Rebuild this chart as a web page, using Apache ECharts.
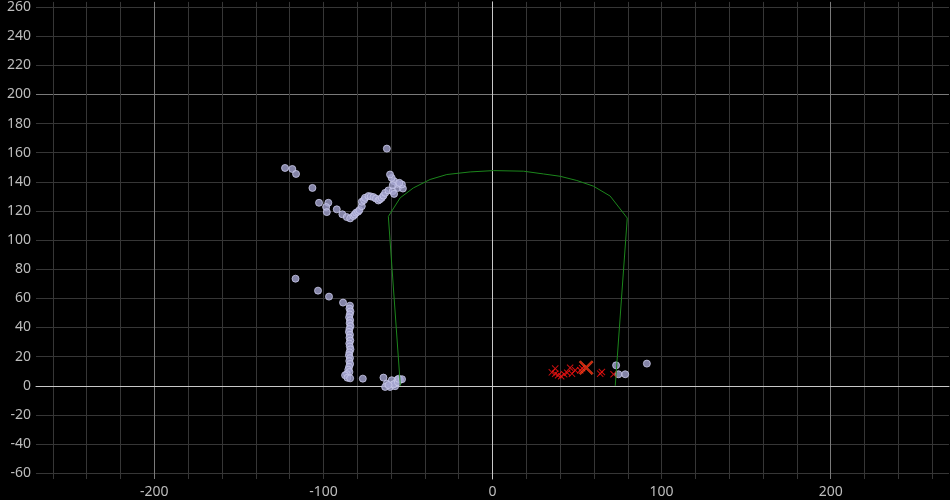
<!DOCTYPE html>
<html lang="en">
<head>
<meta charset="UTF-8">
<title>scan</title>
<script src="https://cdn.jsdelivr.net/npm/echarts@6/dist/echarts.min.js"></script>
<style>
  html, body { margin: 0; padding: 0; background: #000; }
  #chart { width: 950px; height: 500px; }
</style>
</head>
<body>
<div id="chart"></div>
<script>
// tick values
var xMinorTicks = [-260, -240, -220, -200, -180, -160, -140, -120, -100, -80, -60, -40, -20, 0, 20, 40, 60, 80, 100, 120, 140, 160, 180, 200, 220, 240, 260];
var xMajorTicks = [-200, 0, 200];
var xLabels = [-200, -100, 0, 100, 200];
var yMinorTicks = [-60, -40, -20, 0, 20, 40, 60, 80, 100, 120, 140, 160, 180, 200, 220, 240, 260];
var yMajorTicks = [0, 200];
var yLabels = [-60, -40, -20, 0, 20, 40, 60, 80, 100, 120, 140, 160, 180, 200, 220, 240, 260];

// green outline
var outline = [
  [-54.5, 0], [-61.6, 116.2], [-54.6, 129], [-46.8, 135.8], [-36.9, 141.6], [-27, 145],
  [-13.2, 146.8], [0.6, 147.7], [18.3, 147.3], [30.1, 145.4], [40, 143.8], [49.9, 140.9],
  [59.7, 137], [69.6, 130.2], [79.7, 115.1], [72.6, 0]
];

// lavender points: upper arc
var arcPoints = [
  [-122.7, 149.5], [-118.4, 148.8], [-116.2, 145.4], [-106.5, 135.8], [-102.6, 125.6],
  [-97.1, 125.6], [-98.4, 122.7], [-98.0, 119.2], [-92.1, 121.1], [-88.8, 117.7],
  [-86.2, 115.8], [-84.2, 114.9], [-82.3, 116.5], [-81.5, 117.5], [-80.7, 118.8],
  [-79.5, 119.5], [-78.7, 120.6], [-77.3, 123.3], [-77.3, 126.3], [-76, 127.5],
  [-75.4, 129.0], [-73.4, 130.2], [-72, 130], [-70.4, 129.5], [-69, 128.5],
  [-67.5, 127.2], [-66.5, 128], [-65.5, 129.0], [-64.5, 130.5], [-63.5, 132.4],
  [-61.6, 134.1], [-59.0, 133.6], [-58.2, 131.7], [-56.0, 135.8], [-53.0, 135.4],
  [-53.6, 138.2], [-56.2, 138.6], [-58.2, 140.4], [-59.6, 142.7], [-60.6, 145.0],
  [-59.0, 137.7], [-55.1, 139.3], [-62.5, 162.8]
];

// lavender points: left column and scattered
var columnPoints = [
  [-116.5, 73.5], [-103.2, 65.3], [-96.7, 61.2], [-88.4, 57.1],
  [-84.3, 55], [-84.6, 53], [-84.0, 51], [-84.4, 49], [-84.8, 47], [-84.2, 45],
  [-84.5, 43], [-84.0, 41], [-84.6, 39], [-84.9, 37], [-84.3, 35], [-84.6, 33],
  [-84.1, 31], [-84.7, 29], [-84.4, 27], [-84.0, 25], [-84.6, 23], [-84.9, 21],
  [-84.3, 19], [-84.7, 17], [-84.2, 15], [-84.8, 13], [-85.3, 11], [-84.6, 9.5],
  [-86.2, 8], [-87.2, 7.2], [-85.8, 5.5], [-84.2, 5.1], [-76.7, 4.9]
];

// lavender points: bottom clusters
var bottomPoints = [
  [-64.5, 5.6], [-62.5, 1.5], [-59.6, 3.8], [-60.6, -0.8], [-57.6, -0.3],
  [-56.2, 4.2], [-57.6, 1.5], [-54.7, 4.2], [-63.5, -0.8], [-58.5, 1],
  [-61.5, 0.5], [-56, 2.5], [-55.5, 4.8], [-53.5, 4.5],
  [73.1, 14.0], [74.5, 7.9], [78.5, 7.9], [91.3, 15.2]
];

// red crosses
var redPoints = [
  [37.1, 11.8], [35.1, 9.2], [37.1, 8.2], [38.8, 7.2], [40.6, 6.5], [42.4, 7.9],
  [44.2, 8.9], [45.9, 12.4], [47.0, 8.3], [48.9, 10.6], [51.9, 10.6], [53.0, 12.0],
  [63.7, 8.3], [64.7, 9.4], [71.6, 7.9]
];
var bigCross = [[55.4, 12.4]];

var crossPath = 'path://M1,0L5,4L9,0L10,1L6,5L10,9L9,10L5,6L1,10L0,9L4,5L0,1Z';
var labelStyle = { color: '#bdbdbd', fontSize: 14, fontFamily: 'Noto Sans' };

var chart = echarts.init(document.getElementById('chart'));

function pointSeries(data) {
  return {
    type: 'scatter',
    data: data,
    symbol: 'circle',
    symbolSize: 7,
    itemStyle: { color: '#a4a4d0', borderColor: '#cacaea', borderWidth: 1 },
    silent: true
  };
}

chart.setOption({
  backgroundColor: '#000',
  animation: false,
  grid: { left: 36, right: 1, top: 0, bottom: 21 },
  xAxis: [
    {
      type: 'value', min: -270, max: 270, position: 'bottom',
      axisLine: { show: false },
      axisTick: { show: false, customValues: xMinorTicks },
      axisLabel: { show: false },
      splitLine: { show: true, lineStyle: { color: '#363636', width: 1 } }
    },
    {
      type: 'value', min: -270, max: 270, position: 'bottom',
      axisLine: { show: true, lineStyle: { color: '#c8c8c8', width: 1 } },
      axisTick: { show: false, customValues: xMajorTicks },
      axisLabel: Object.assign({ customValues: xLabels, margin: 6 }, labelStyle),
      splitLine: { show: true, lineStyle: { color: '#7a7a7a', width: 1 } }
    }
  ],
  yAxis: [
    {
      type: 'value', min: -64, max: 263.5, position: 'left',
      axisLine: { show: false },
      axisTick: { show: false, customValues: yMinorTicks },
      axisLabel: { show: false },
      splitLine: { show: true, lineStyle: { color: '#363636', width: 1 } }
    },
    {
      type: 'value', min: -64, max: 263.5, position: 'left',
      axisLine: { show: true, lineStyle: { color: '#c8c8c8', width: 1 } },
      axisTick: { show: false, customValues: yMajorTicks },
      axisLabel: Object.assign({ customValues: yLabels, margin: 5 }, labelStyle),
      splitLine: { show: true, lineStyle: { color: '#7a7a7a', width: 1 } }
    }
  ],
  series: [
    {
      type: 'line',
      data: outline,
      showSymbol: false,
      symbol: 'none',
      lineStyle: { color: '#1c861c', width: 1 },
      silent: true
    },
    pointSeries(arcPoints),
    pointSeries(columnPoints),
    pointSeries(bottomPoints),
    {
      type: 'scatter',
      data: redPoints,
      symbol: crossPath,
      symbolSize: 7,
      itemStyle: { color: '#ff1414' },
      silent: true
    },
    {
      type: 'scatter',
      data: bigCross,
      symbol: crossPath,
      symbolSize: 14,
      itemStyle: { color: '#ff2a10', borderColor: '#ff6a30', borderWidth: 0.6 },
      silent: true
    }
  ]
});
</script>
</body>
</html>
